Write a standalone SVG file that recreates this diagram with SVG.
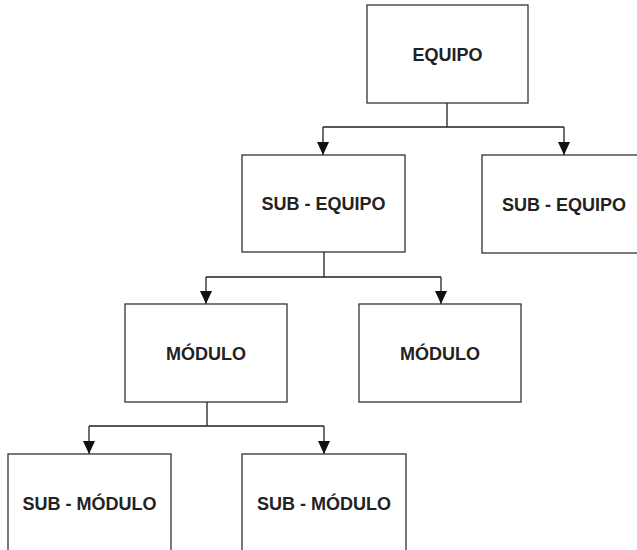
<svg xmlns="http://www.w3.org/2000/svg" width="637" height="550" viewBox="0 0 637 550">
<defs>
<style>
.box{fill:#fff;stroke:#333;stroke-width:1.3}
.lbl{font-family:"Liberation Sans",Arial,sans-serif;font-weight:bold;font-size:18px;fill:#222;text-anchor:middle}
.con{fill:none;stroke:#222;stroke-width:1.3}
</style>
<marker id="ah" markerUnits="userSpaceOnUse" markerWidth="13" markerHeight="12" refX="13" refY="6" orient="auto" viewBox="0 0 13 12">
<path d="M0,0 L13,6 L0,12 Z" fill="#111"/>
</marker>
</defs>
<rect width="637" height="550" fill="#fff"/>
<g id="connectors">
<path class="con" d="M447,103 V127 M323,127 H564"/>
<path class="con" d="M323,127 V155" marker-end="url(#ah)"/>
<path class="con" d="M564,127 V155" marker-end="url(#ah)"/>
<path class="con" d="M324,252 V277 M206,277 H441"/>
<path class="con" d="M206,277 V304" marker-end="url(#ah)"/>
<path class="con" d="M441,277 V304" marker-end="url(#ah)"/>
<path class="con" d="M207,402 V426 M89,426 H324"/>
<path class="con" d="M89,426 V454" marker-end="url(#ah)"/>
<path class="con" d="M324,426 V454" marker-end="url(#ah)"/>
</g>
<g id="equipo"><rect class="box" x="367" y="5" width="161" height="98"/><text class="lbl" x="447.5" y="61">EQUIPO</text></g>
<g id="subequipo1"><rect class="box" x="242" y="155" width="163" height="97"/><text class="lbl" x="323.5" y="210">SUB - EQUIPO</text></g>
<g id="subequipo2"><rect class="box" x="482" y="155" width="164" height="98"/><text class="lbl" x="564" y="210.5">SUB - EQUIPO</text></g>
<g id="modulo1"><rect class="box" x="125" y="304" width="162" height="98"/><text class="lbl" x="206" y="360">MÓDULO</text></g>
<g id="modulo2"><rect class="box" x="359" y="304" width="162" height="98"/><text class="lbl" x="440" y="360">MÓDULO</text></g>
<g id="submodulo1"><rect class="box" x="8" y="454" width="163" height="98"/><text class="lbl" x="89.5" y="510">SUB - MÓDULO</text></g>
<g id="submodulo2"><rect class="box" x="242" y="454" width="164" height="98"/><text class="lbl" x="324" y="510">SUB - MÓDULO</text></g>
</svg>
